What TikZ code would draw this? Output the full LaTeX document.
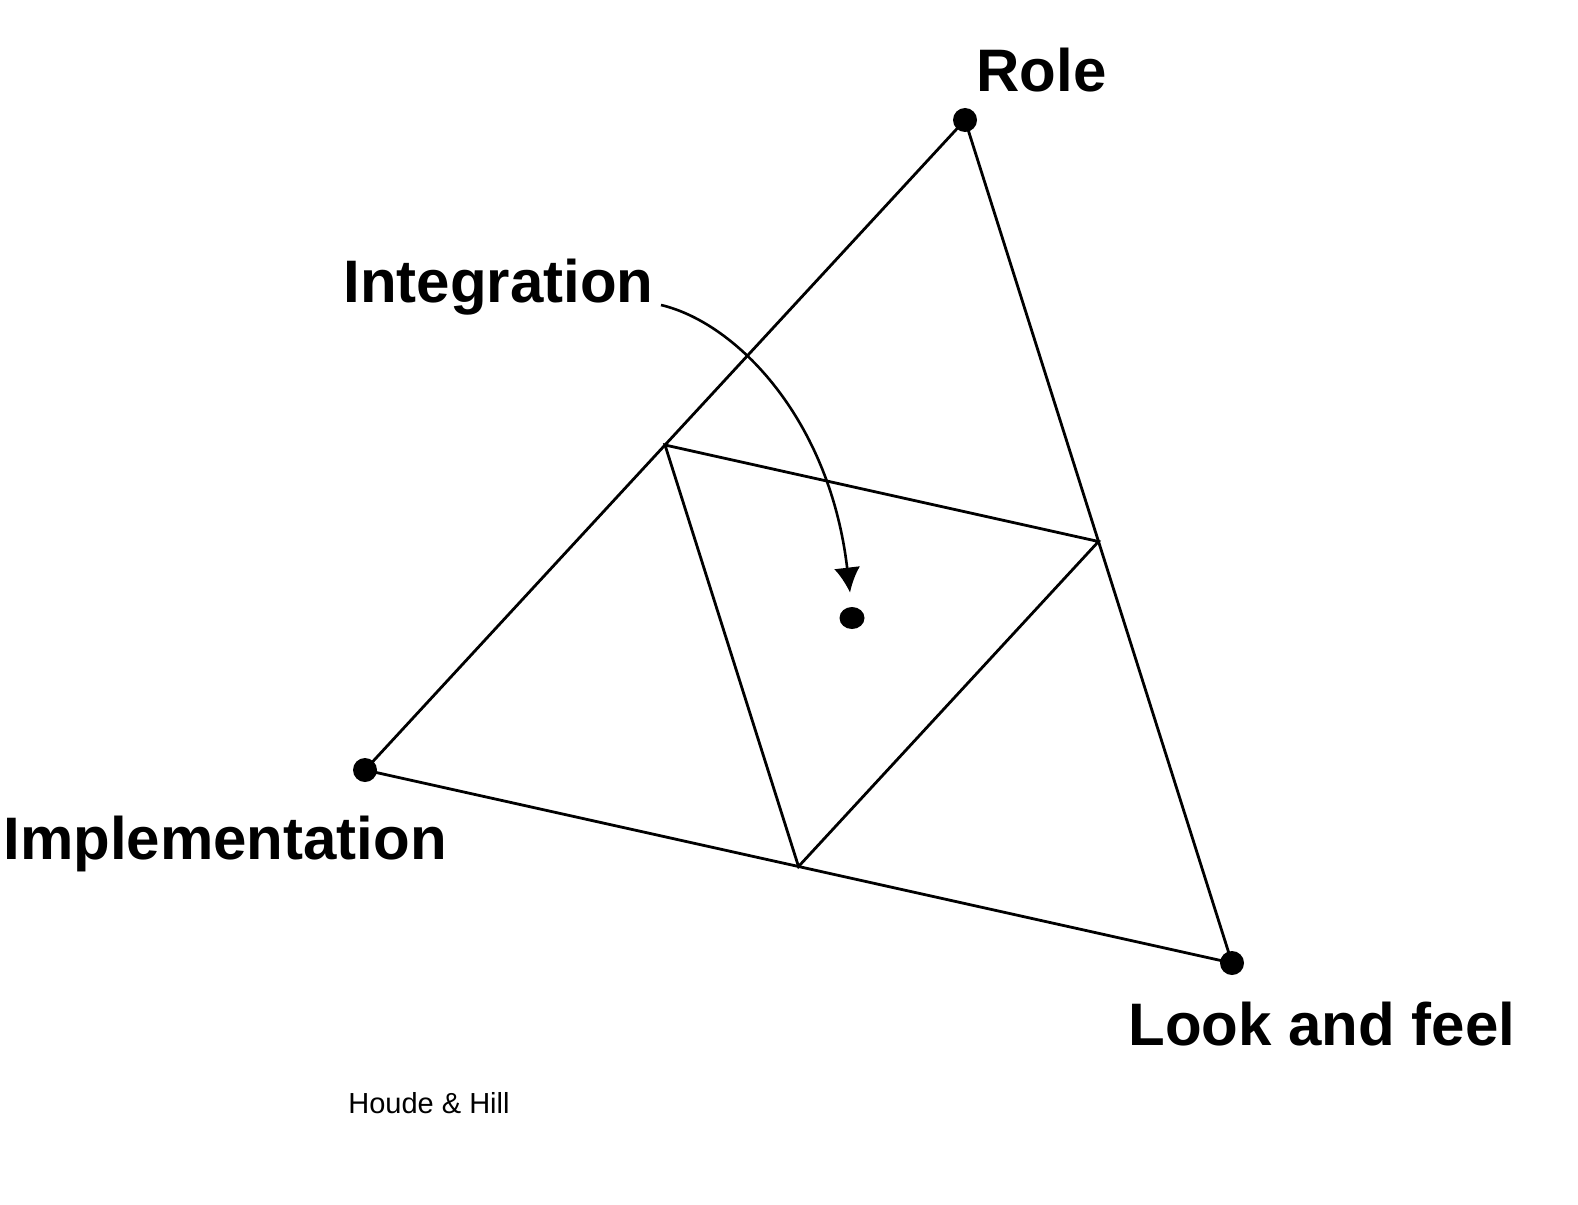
\documentclass[tikz,border=0pt]{standalone}
\usepackage{fontspec}
\setmainfont{Liberation Sans}
\usetikzlibrary{arrows.meta,calc,shapes.geometric}
\begin{document}
\begin{tikzpicture}[x=0.5pt,y=-0.5pt,
  edge/.style={line width=1.4pt,black},
  dotnode/.style={circle,fill=black,inner sep=0pt,minimum size=12pt},
  lbl/.style={anchor=base west,inner sep=0pt,font=\fontsize{30}{35}\selectfont\bfseries},
  credit/.style={anchor=base west,inner sep=0pt,font=\fontsize{14.5}{17}\selectfont}]
\useasboundingbox[fill=white] (0,0) rectangle (1578,1204);
\coordinate (R) at (965,120);
\coordinate (I) at (365,770);
\coordinate (L) at (1232,963);
\coordinate (mRI) at ($(R)!0.5!(I)$);
\coordinate (mRL) at ($(R)!0.5!(L)$);
\coordinate (mIL) at ($(I)!0.5!(L)$);
\draw[edge] (R) -- (I) -- (L) -- cycle;
\draw[edge] (mRI) -- (mRL) -- (mIL) -- cycle;
\node[dotnode] (dR) at (R) {};
\node[dotnode] (dI) at (I) {};
\node[dotnode] (dL) at (L) {};
\node[ellipse,fill=black,inner sep=0pt,minimum width=12.5pt,minimum height=11pt] (dC) at (852,618) {};
\node[lbl] (tR) at (976,92) {Role};
\node[lbl] (tInt) at (343,302) {Integration};
\node[lbl] (tImp) at (3,859) {Implementation};
\node[lbl] (tL) at (1128,1045) {Look and feel};
\node[credit] (tH) at (348,1113) {Houde \& Hill};
\coordinate (aS) at (661,305);
\draw[line width=1.3pt,-{Latex[length=12.5pt,width=13pt]}] (aS) .. controls (737,323) and (830,420) .. ($(dC.north)+(-2,-14)$);
\end{tikzpicture}
\end{document}
